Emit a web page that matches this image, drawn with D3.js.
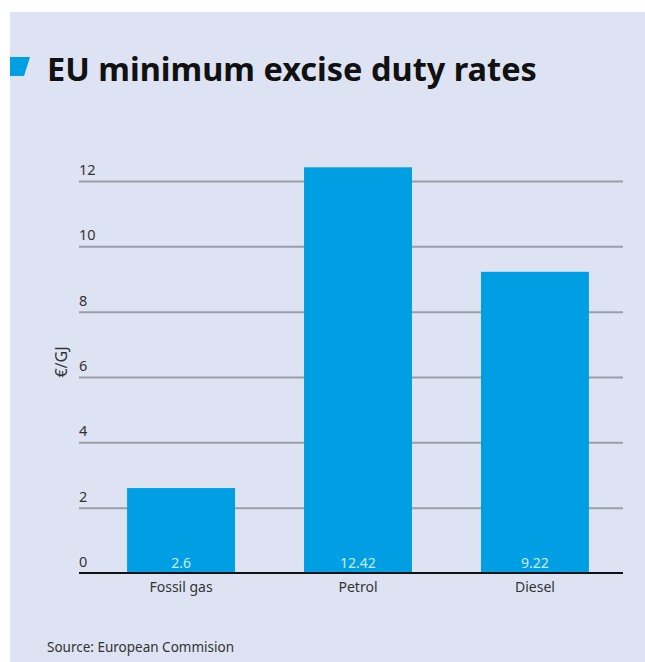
<!DOCTYPE html>
<html><head><meta charset="utf-8">
<script src="https://cdn.jsdelivr.net/npm/d3@7"></script>
<style>body{margin:0;background:#fff;} svg{display:block;font-family:"Noto Sans",sans-serif;}</style>
</head><body>
<svg id="c" width="645" height="662"></svg>
<script>
const categories = ["Fossil gas", "Petrol", "Diesel"];
const values = [2.6, 12.42, 9.22];
const yTicks = [0, 2, 4, 6, 8, 10, 12];
const title = "EU minimum excise duty rates";
const yLabel = "€/GJ";
const source = "Source: European Commision";

const svg = d3.select("#c");
const blue = "#009fe3";
svg.append("rect").attr("x", 10).attr("y", 12).attr("width", 635).attr("height", 650).attr("fill", "#dde3f2");
svg.append("path").attr("d", "M10,57L30,57L24,76L10,76Z").attr("fill", blue);
svg.append("text").attr("x", 47).attr("y", 81).attr("font-size", 32.5).attr("font-weight", 700).attr("fill", "#111").text(title);

const y = d3.scaleLinear().domain([0, 12]).range([573, 181]);
const x = d3.scaleBand().domain(categories).range([74, 642]).paddingInner(0.39).paddingOuter(0.3);
const gx0 = 79, gx1 = 623;

const grid = svg.append("g").attr("transform", `translate(${gx0},0)`)
  .call(d3.axisLeft(y).tickValues(yTicks.filter(d => d > 0)).tickSize(-(gx1 - gx0)).tickFormat(""));
grid.select(".domain").remove();
grid.selectAll("line").attr("stroke", "#9a9ea8").attr("stroke-width", 2);

svg.append("g").selectAll("text").data(yTicks).join("text")
  .attr("x", gx0).attr("y", d => y(d) - 6).attr("font-size", 14.5).attr("fill", "#333").text(d => d);

svg.append("g").selectAll("rect").data(values).join("rect")
  .attr("x", (d, i) => x(categories[i])).attr("width", x.bandwidth())
  .attr("y", d => y(d)).attr("height", d => y(0) - y(d)).attr("fill", blue);

svg.append("g").selectAll("text").data(values).join("text")
  .attr("x", (d, i) => x(categories[i]) + x.bandwidth() / 2).attr("y", y(0) - 5)
  .attr("text-anchor", "middle").attr("font-size", 14).attr("fill", "#cfe9fb").text(d => d);

svg.append("line").attr("x1", gx0).attr("x2", gx1).attr("y1", y(0)).attr("y2", y(0)).attr("stroke", "#111").attr("stroke-width", 2);

const xa = svg.append("g").attr("transform", `translate(0,${y(0)})`).call(d3.axisBottom(x).tickSize(0).tickPadding(9));
xa.select(".domain").remove();
xa.selectAll("text").attr("font-size", 14).attr("fill", "#333").attr("font-family", "Noto Sans");

svg.append("text").attr("transform", `translate(67,362) rotate(-90)`).attr("text-anchor", "middle")
  .attr("font-size", 16).attr("fill", "#333").text(yLabel);

svg.append("text").attr("x", 47).attr("y", 652).attr("font-size", 13.5).attr("fill", "#333").text(source);
</script>
</body></html>
